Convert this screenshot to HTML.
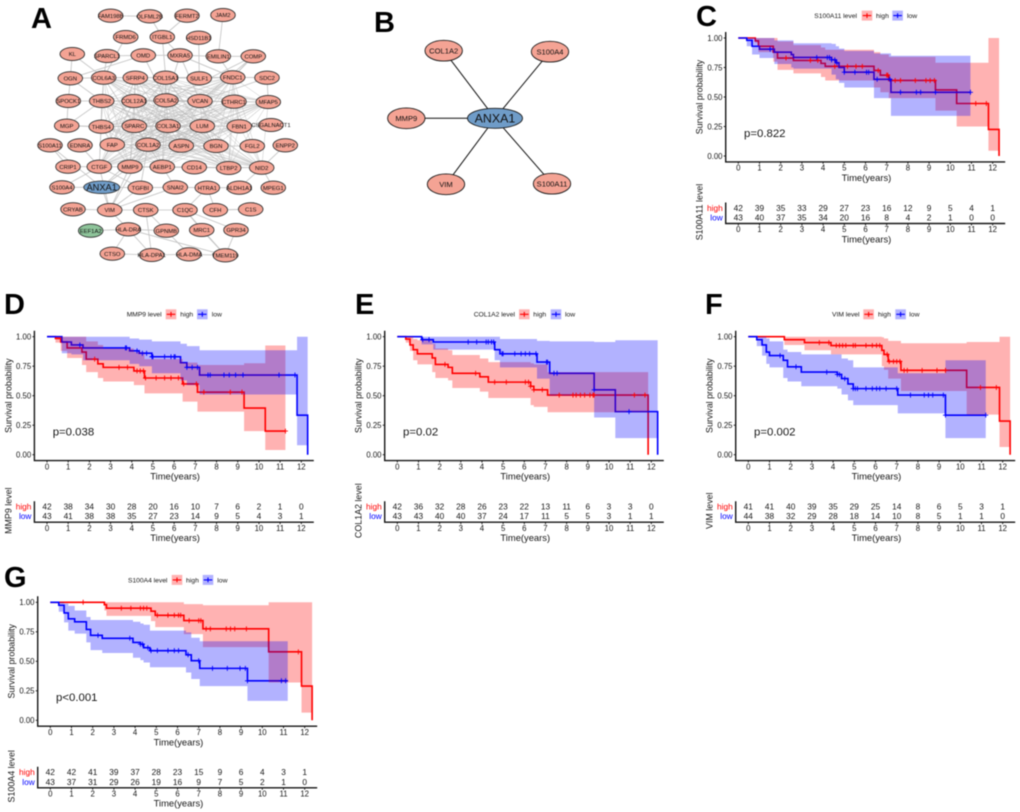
<!DOCTYPE html>
<html lang="en">
<head>
<meta charset="utf-8">
<title>ANXA1 network and survival curves</title>
<style>
html,body{margin:0;padding:0;background:#fff;}
svg{display:block;font-family:"Liberation Sans",Arial,sans-serif;filter:blur(0.45px);}
.letter{font-size:29px;font-weight:bold;fill:#000;}
</style>
</head>
<body>
<svg id="figure" width="1020" height="812" viewBox="0 0 1020 812" xmlns="http://www.w3.org/2000/svg">
<rect x="0" y="0" width="1020" height="812" fill="#fff"/>
<text class="letter" x="31" y="28">A</text>
<text class="letter" x="374" y="32">B</text>
<text class="letter" x="696" y="26">C</text>
<text class="letter" x="4" y="314">D</text>
<text class="letter" x="355" y="314">E</text>
<text class="letter" x="705" y="314">F</text>
<text class="letter" x="4" y="587">G</text>
</svg>
<script>
// ---------- shared tick labels ----------
const yearTicks = [0,1,2,3,4,5,6,7,8,9,10,11,12];
const survTicks = [0,0.25,0.5,0.75,1];
const survTickLabels = ["0.00","0.25","0.50","0.75","1.00"];

// ---------- panel C: S100A11 ----------
const cHighTimes = [0,.8,.95,1.65,1.85,2.6,3.9,4.1,6.4,6.7,7.1,9.3,10.3,11.8,12.3];
const cHighSurv = [1,.976,.93,.88,.83,.81,.785,.76,.725,.685,.64,.56,.445,.225,0];
const cHighUpper = [1,1,1,1,.97,.94,.92,.90,.88,.86,.84,.79,.79,1,1];
const cHighLower = [1,.96,.88,.80,.73,.70,.67,.64,.58,.54,.49,.385,.25,.045,.045];
const cHighCensor = [2.25,3.4,3.75,4.55,5.15,5.55,5.85,6.6,7,7.05,7.4,7.65,8.35,8.85,9.05,9.25,11.2,11.7];
const cLowTimes = [0,.4,.65,1.0,1.7,2.5,2.6,4.4,4.6,4.75,5,6.4,7.2,10.95];
const cLowSurv = [1,.98,.93,.905,.88,.86,.835,.815,.79,.75,.71,.65,.54,.54];
const cLowUpper = [1,1,1,1,.98,.98,.955,.95,.93,.91,.89,.87,.85,.85];
const cLowLower = [1,.93,.86,.83,.78,.75,.74,.69,.65,.62,.58,.49,.34,.34];
const cLowCensor = [1.5,3.7,4.2,4.3,4.4,4.55,4.65,5,5.5,6.05,6.15,6.55,7.15,7.65,8.4,8.6,9.3,10.95];
const cRiskHigh = [42,39,35,33,29,27,23,16,12,9,5,4,1];
const cRiskLow = [43,40,37,35,34,20,16,8,4,2,1,0,0];

// ---------- panel D: MMP9 ----------
const dHighTimes = [0,.4,.65,.95,1.65,1.85,2.4,2.65,4.1,4.6,6.4,7.1,9.3,10.3,11.25];
const dHighSurv = [1,.985,.955,.905,.87,.81,.77,.74,.71,.65,.60,.53,.395,.20,.20];
const dHighUpper = [1,1,1,1,1,.96,.93,.90,.87,.81,.78,.76,.775,.925,.925];
const dHighLower = [1,.95,.88,.82,.76,.70,.65,.62,.59,.52,.45,.365,.20,.04,.04];
const dHighCensor = [2.25,3.4,3.8,4.25,4.4,4.55,4.65,5.15,5.55,5.85,6.2,6.45,7.05,7.4,8.65,9.2,11.25];
const dLowTimes = [0,.7,1.15,1.7,3.9,4.35,4.95,6.3,6.6,7.2,11.8,12.3];
const dLowSurv = [1,.955,.93,.905,.88,.86,.83,.78,.74,.675,.335,0];
const dLowUpper = [1,1,1,1,.985,.975,.96,.94,.92,.885,1,1];
const dLowLower = [1,.86,.85,.80,.77,.75,.69,.63,.59,.51,.08,.08];
const dLowCensor = [1.55,3.7,3.75,4.25,4.5,4.7,4.95,5,5.55,5.85,6,6.05,6.6,6.85,7.1,7.6,7.7,8.35,8.6,8.9,9.25,10.95,11.7];
const dRiskHigh = [42,38,34,30,28,20,16,10,7,6,2,1,0];
const dRiskLow = [43,41,38,38,35,27,23,14,9,5,4,3,1];

// ---------- panel E: COL1A2 ----------
const eHighTimes = [0,.4,.6,.75,.95,1.65,1.8,2.4,2.6,3.9,4.3,6.3,6.45,7.1,11.85];
const eHighSurv = [1,.98,.93,.89,.855,.82,.765,.74,.69,.66,.615,.58,.55,.505,0];
const eHighUpper = [1,1,1,.98,.97,.94,.90,.885,.845,.815,.785,.775,.765,.70,.70];
const eHighLower = [1,.95,.88,.80,.765,.70,.65,.63,.565,.535,.48,.42,.405,.36,.36];
const eHighCensor = [2.25,3.7,4.6,5.15,6.05,6.2,6.3,6.45,6.85,7.65,8.3,8.45,8.65,8.85,9.1,9.25,9.3,11.2,11.7];
const eLowTimes = [0,1.15,1.7,4.6,4.85,6.6,7.2,9.3,10.3,12.3];
const eLowSurv = [1,.975,.955,.89,.855,.785,.69,.55,.365,0];
const eLowUpper = [1,1,1,1,.98,.965,.96,.955,.97,.97];
const eLowLower = [1,.935,.89,.80,.74,.645,.50,.315,.14,.14];
const eLowCensor = [1.2,1.5,3.35,3.75,4.2,4.3,4.45,4.55,4.95,5,5.55,5.85,6.05,6.25,6.55,7.05,7.1,7.4,7.55,9.3,10.95];
const eRiskHigh = [42,36,32,28,26,23,22,13,11,6,3,3,0];
const eRiskLow = [43,43,40,40,37,24,17,11,5,5,3,1,1];

// ---------- panel F: VIM ----------
const fHighTimes = [0,1.7,2.65,3.9,6.3,6.4,6.6,7.2,10.3,11.85,12.35];
const fHighSurv = [1,.975,.95,.925,.885,.85,.79,.715,.57,.285,0];
const fHighUpper = [1,1,1,1,.995,.985,.965,.945,.955,1,1];
const fHighLower = [1,.93,.885,.85,.75,.72,.645,.54,.34,.065,.065];
const fHighCensor = [3.35,3.8,4.15,4.3,4.45,4.6,4.95,5.05,5.55,5.85,6.05,6.2,6.55,6.65,6.85,7,7.15,7.35,7.5,8.2,8.9,9.3,10.95,11.7];
const fLowTimes = [0,.4,.65,.85,1.0,1.65,1.85,2.5,4.2,4.4,4.7,4.95,7.05,9.3,11.2];
const fLowSurv = [1,.975,.93,.87,.84,.80,.745,.70,.68,.645,.60,.56,.505,.335,.335];
const fLowUpper = [1,1,1,.985,.96,.89,.87,.85,.85,.815,.80,.74,.69,.80,.80];
const fLowLower = [1,.92,.84,.77,.74,.65,.62,.58,.56,.51,.46,.42,.35,.14,.14];
const fLowCensor = [1.5,2.25,3.7,4.2,4.3,4.55,4.95,5.05,5.15,5.55,5.85,6.05,6.2,6.5,7,7.65,8.3,8.5,8.7,9.2,9.3,11.2];
const fRiskHigh = [41,41,40,39,35,29,25,14,8,6,5,3,1];
const fRiskLow = [44,38,32,29,28,18,14,10,8,5,1,1,0];

// ---------- panel G: S100A4 ----------
const gHighTimes = [0,2.55,2.65,4.75,4.95,6.3,7.2,10.3,11.85,12.35];
const gHighSurv = [1,.98,.95,.925,.89,.845,.775,.58,.29,0];
const gHighUpper = [1,1,1,1,1,.985,.975,1,1,1];
const gHighLower = [1,.93,.885,.84,.79,.73,.62,.32,.065,.065];
const gHighCensor = [1.55,3.35,3.8,4.25,4.4,4.55,5.05,5.55,5.85,6.05,6.15,6.55,7,7.1,7.35,7.55,8.3,8.5,8.7,9.25,11.7];
const gLowTimes = [0,.4,.65,.85,1.15,1.7,1.9,2.45,3.9,4.25,4.4,4.7,6.4,6.65,7.05,9.3,11.2];
const gLowSurv = [1,.975,.91,.86,.835,.77,.72,.695,.66,.645,.615,.59,.555,.505,.44,.335,.335];
const gLowUpper = [1,1,.99,.97,.93,.875,.85,.85,.835,.82,.81,.76,.745,.70,.67,.67,.67];
const gLowLower = [1,.92,.83,.76,.735,.66,.595,.57,.53,.51,.49,.45,.405,.35,.29,.165,.165];
const gLowCensor = [2.25,3.75,4.25,4.35,4.6,4.75,5.05,5.55,5.85,6.05,6.5,7,7.65,8.35,8.95,9.2,9.3,10.9,11.1];
const gRiskHigh = [42,42,41,39,37,28,23,15,9,6,4,3,1];
const gRiskLow = [43,37,31,29,26,19,16,9,7,5,2,1,0];

// ---------- panel layouts (pixel frames live here, not in the data) ----------
const survivalPanels = [
  {id:"c",gene:"S100A11",p:"p=0.822",x0:738.3,x12:992.7,top:38,legend:[814.3,861.7,876,892.3,907],
   high:[cHighTimes,cHighSurv,cHighUpper,cHighLower,cHighCensor],low:[cLowTimes,cLowSurv,cLowUpper,cLowLower,cLowCensor],riskHigh:cRiskHigh,riskLow:cRiskLow},
  {id:"d",gene:"MMP9",p:"p=0.038",x0:47,x12:301.3,top:336.7,legend:[126.7,165.7,180.3,197,211.7],
   high:[dHighTimes,dHighSurv,dHighUpper,dHighLower,dHighCensor],low:[dLowTimes,dLowSurv,dLowUpper,dLowLower,dLowCensor],riskHigh:dRiskHigh,riskLow:dRiskLow},
  {id:"e",gene:"COL1A2",p:"p=0.02",x0:397.3,x12:651.3,top:336.7,legend:[473.7,519,533.3,550.7,565],
   high:[eHighTimes,eHighSurv,eHighUpper,eHighLower,eHighCensor],low:[eLowTimes,eLowSurv,eLowUpper,eLowLower,eLowCensor],riskHigh:eRiskHigh,riskLow:eRiskLow},
  {id:"f",gene:"VIM",p:"p=0.002",x0:748.3,x12:1002.7,top:336.7,legend:[832,863.3,878,895.3,909.3],
   high:[fHighTimes,fHighSurv,fHighUpper,fHighLower,fHighCensor],low:[fLowTimes,fLowSurv,fLowUpper,fLowLower,fLowCensor],riskHigh:fRiskHigh,riskLow:fRiskLow},
  {id:"g",gene:"S100A4",p:"p<0.001",x0:50.3,x12:304.7,top:602.3,legend:[128,171.7,186,202.7,217.3],
   high:[gHighTimes,gHighSurv,gHighUpper,gHighLower,gHighCensor],low:[gLowTimes,gLowSurv,gLowUpper,gLowLower,gLowCensor],riskHigh:gRiskHigh,riskLow:gRiskLow}
];

// ---------- network A ----------
const networkNodes = [
["FAM198B",110.7,15.7],["OLFML2B",149.7,16.3],["FERMT2",187,15.7],["JAM2",223,15],
["FRMD6",125.7,37],["ITGBL1",162.3,37],["HSD11B1",198.7,37.7],
["KL",72.3,54],["SPARCL1",107,56],["OMD",143.3,55.3],["MXRA5",180,55.3],["EMILIN1",218.3,56.3],["COMP",253.3,56.3],
["OGN",70.3,78.3],["COL6A3",103.7,77.7],["SFRP4",135.3,77.7],["COL15A1",165.7,77.7],["SULF1",199.3,78.3],["FNDC1",232.7,77.3],["SDC2",267,77.7],
["SPOCK1",68.3,101],["THBS2",101.7,101],["COL12A1",134,101],["COL5A2",166,100.3],["VCAN",200,101],["CTHRC1",234,101.7],["MFAP5",268.3,102],
["MGP",66.7,125.7],["THBS4",101.3,126.7],["SPARC",134.3,126],["COL3A1",168,126],["LUM",202.3,126],["FBN1",239.3,126.3],["CSGALNACT1",271,125],
["S100A11",50,145.3],["EDNRA",80,145.3],["FAP",112.3,144.7],["COL1A2",148,144.7],["ASPN",181.3,145.7],["BGN",216,146],["FGL2",252.3,146],["ENPP2",285.3,145.3],
["CRIP1",68,166.7],["CTGF",99.3,166.7],["MMP9",130,166.7],["AEBP1",162.3,166.7],["CD14",194.3,167.3],["LTBP2",228.7,168],["NID2",261.7,167.7],
["S100A4",62,187.3],["ANXA1",101.7,187.3],["TGFBI",140.3,187.7],["SNAI2",175.3,187.3],["HTRA1",207.3,187.7],["ALDH1A1",239.3,187.7],["MPEG1",273.3,187.7],
["CRYAB",73,209.3],["VIM",109.7,210],["CTSK",145.7,210],["C1QC",185,210],["CFH",215.3,210],["C1S",250.7,209.3],
["EEF1A2",90.7,230.7],["HLA-DRA",128.3,229.3],["GPNMB",166.3,230.7],["MRC1",201.7,230],["GPR34",236,230],
["CTSO",112.3,253.7],["HLA-DPA1",151.7,255],["HLA-DMA",189,254.3],["TMEM119",225.3,255.3]
];
const networkHubs = ["COL6A3","COL15A1","THBS2","COL12A1","COL5A2","VCAN","SPARC","COL3A1","LUM","FBN1","COL1A2","ASPN","BGN","FAP","MMP9","AEBP1","CTGF","NID2","FNDC1","CTHRC1","MFAP5","SFRP4","LTBP2","THBS4"];
const networkEdges = [
["FAM198B","OLFML2B"],["OLFML2B","ITGBL1"],["FERMT2","ITGBL1"],["JAM2","EMILIN1"],["FRMD6","COL6A3"],["ITGBL1","MXRA5"],["ITGBL1","COL15A1"],["HSD11B1","SULF1"],
["KL","OGN"],["KL","COL6A3"],["SPARCL1","COL6A3"],["SPARCL1","OMD"],["OMD","MXRA5"],["OMD","OGN"],["OMD","COL5A2"],["MXRA5","EMILIN1"],["MXRA5","FNDC1"],["MXRA5","COL5A2"],["MXRA5","VCAN"],
["EMILIN1","COMP"],["EMILIN1","FNDC1"],["COMP","FNDC1"],["COMP","FNDC1"],["COMP","VCAN"],["COMP","COL5A2"],["FNDC1","SDC2"],["SDC2","MFAP5"],["SDC2","VCAN"],
["OGN","COL6A3"],["OGN","SPOCK1"],["OGN","THBS2"],["SPOCK1","MGP"],["SPOCK1","THBS2"],["MGP","THBS4"],["MGP","THBS4"],["MGP","THBS2"],["THBS4","SPARC"],["THBS4","SPARC"],
["FBN1","CSGALNACT1"],["S100A11","CRIP1"],["S100A11","ANXA1"],["EDNRA","CTGF"],["FAP","CTGF"],["CRIP1","CTGF"],["CTGF","S100A4"],["S100A4","ANXA1"],["ANXA1","VIM"],["ANXA1","TGFBI"],["ANXA1","MMP9"],["ANXA1","COL1A2"],
["CRYAB","VIM"],["VIM","TGFBI"],["VIM","CTSK"],["VIM","HLA-DRA"],["VIM","MMP9"],["VIM","COL1A2"],["VIM","CTGF"],["VIM","SNAI2"],["TGFBI","SNAI2"],["TGFBI","CTGF"],["TGFBI","COL1A2"],["SNAI2","HTRA1"],["SNAI2","AEBP1"],
["HTRA1","ALDH1A1"],["ALDH1A1","NID2"],["NID2","MPEG1"],["NID2","ENPP2"],["HTRA1","CFH"],["CFH","C1S"],["CFH","C1S"],["C1QC","GPR34"],["C1QC","MRC1"],["C1QC","TMEM119"],["C1QC","HTRA1"],
["CTSK","GPNMB"],["CTSK","C1QC"],["GPNMB","HLA-DRA"],["EEF1A2","HLA-DRA"],["HLA-DRA","HLA-DPA1"],["HLA-DRA","CTSO"],["HLA-DRA","TMEM119"],["CTSO","HLA-DPA1"],["HLA-DPA1","HLA-DMA"],["HLA-DMA","TMEM119"],["MRC1","TMEM119"],["GPR34","TMEM119"],["CTSK","HLA-DPA1"],["GPNMB","HLA-DMA"],
["COL5A2","VCAN"],["COL5A2","COL12A1"],["COL12A1","THBS2"],["COL3A1","SPARC"],["COL3A1","LUM"],["LUM","FBN1"],["VCAN","CTHRC1"],["COL6A3","SFRP4"],["SFRP4","COL15A1"],["COL15A1","SULF1"],["SULF1","FNDC1"],["FGL2","BGN"],["BGN","ASPN"],["COL1A2","ASPN"]
];

// ---------- network B ----------
const starNodes = [["COL1A2",443.7,50.7],["S100A4",550,51.7],["MMP9",406.3,118.3],["VIM",446,184.3],["S100A11",552,183.7]];

// ---------- drawing ----------
const NS = "http://www.w3.org/2000/svg";
const figure = document.getElementById("figure");
function make(parent, tag, attrs, content){
  const node = document.createElementNS(NS, tag);
  for (const k in attrs) node.setAttribute(k, attrs[k]);
  if (content !== undefined) node.textContent = content;
  parent.appendChild(node);
  return node;
}

function drawNetworkA(){
  const g = make(figure, "g", {});
  
  
  const pos = {};
  networkNodes.forEach(n => { pos[n[0]] = n; });
  function edge(a, b, color, w){
    const ln = make(g, "line", {x1:pos[a][1],y1:pos[a][2],x2:pos[b][1],y2:pos[b][2],stroke:color,"stroke-width":w});
    
    
  }
  for (let i = 0; i < networkHubs.length; i++) {
    for (let j = i + 1; j < networkHubs.length; j++) {
      edge(networkHubs[i], networkHubs[j], "#bcbcbc", 0.42);
    }
  }
  networkEdges.forEach(e => edge(e[0], e[1], "#c4c4c4", 0.85));
  networkNodes.forEach(n => {
    const isHub = n[0] === "ANXA1";
    const isGreen = n[0] === "EEF1A2";
    const el = make(g, "ellipse", {cx:n[1],cy:n[2],rx:isHub?18:12.3,ry:isHub?6.3:6.6,fill:isHub?"#6f9cc8":isGreen?"#8ec49a":"#f4a394",stroke:"#2c2c2c","stroke-width":0.85});
    
    
    const t = make(g, "text", {x:n[1],y:n[2]+(isHub?3.3:2.1),"text-anchor":"middle","font-size":isHub?9.3:5.9,fill:"#111"}, n[0]);
    
    
  });
}

function drawNetworkB(){
  const g = make(figure, "g", {});
  
  
  const cx = 495, cy = 118.3;
  starNodes.forEach(n => {
    const ln = make(g, "line", {x1:cx,y1:cy,x2:n[1],y2:n[2],stroke:"#111","stroke-width":1});
    
    
  });
  starNodes.forEach(n => {
    const el = make(g, "ellipse", {cx:n[1],cy:n[2],rx:18.7,ry:10.4,fill:"#f4a394",stroke:"#1c1c1c","stroke-width":0.9});
    
    
    const t = make(g, "text", {x:n[1],y:n[2]+2.7,"text-anchor":"middle","font-size":7.6,fill:"#111"}, n[0]);
    
    
  });
  const hub = make(g, "ellipse", {cx:cx,cy:cy,rx:27.5,ry:10,fill:"#6f9cc8",stroke:"#1c1c1c","stroke-width":0.9});
  
  
  const hubLabel = make(g, "text", {x:cx,y:cy+4.4,"text-anchor":"middle","font-size":12.4,fill:"#111"}, "ANXA1");
  
  
}

function stepPath(times, values, xs, ys){
  let d = "M" + xs(times[0]) + " " + ys(values[0]);
  for (let i = 1; i < times.length; i++) {
    d += "H" + xs(times[i]) + "V" + ys(values[i]);
  }
  return d;
}
function bandPath(times, upper, lower, xs, ys){
  let d = "M" + xs(times[0]) + " " + ys(upper[0]);
  for (let i = 1; i < times.length; i++) {
    d += "H" + xs(times[i]);
    if (i < times.length - 1) d += "V" + ys(upper[i]);
  }
  d += "V" + ys(lower[lower.length - 1]);
  for (let i = times.length - 2; i >= 0; i--) {
    d += "H" + xs(times[i]);
    if (i > 0) d += "V" + ys(lower[i - 1]);
  }
  return d + "Z";
}
function survivalAt(t, times, values){
  let v = values[0];
  for (let i = 0; i < times.length; i++) { if (times[i] <= t) v = values[i]; }
  return v;
}

function drawSurvivalPanel(cfg){
  const g = make(figure, "g", {});
  
  
  const xs = t => +(cfg.x0 + t * (cfg.x12 - cfg.x0) / 12).toFixed(2);
  const y0 = cfg.top + 118;
  const ys = s => +(y0 - s * 118).toFixed(2);
  const axisL = cfg.x0 - 12.6, axisR = cfg.x12 + 12.5, axisB = y0 + 5.9;
  const ink = "#161616";

  // lines sit below the translucent bands, as in the original plot
  const series = [["high", cfg.high, "#ff0000"], ["low", cfg.low, "#0000ff"]];
  series.forEach(s => {
    const line = make(g, "path", {d:stepPath(s[1][0], s[1][1], xs, ys),fill:"none",stroke:s[2],"stroke-width":1.6});
    
    
  });
  series.forEach(s => {
    const band = make(g, "path", {d:bandPath(s[1][0], s[1][2], s[1][3], xs, ys),fill:s[2],"fill-opacity":0.3,stroke:"none"});
    
    
  });
  series.forEach(s => {
    s[1][4].forEach(t => {
      const px = xs(t), py = ys(survivalAt(t, s[1][0], s[1][1]));
      const mark = make(g, "path", {d:"M"+(px-2.5)+" "+py+"H"+(px+2.5)+"M"+px+" "+(py-2.5)+"V"+(py+2.5),stroke:s[2],"stroke-width":0.9,fill:"none"});
      
      
    });
  });

  // main axes
  const axes = make(g, "path", {d:"M"+axisL+" "+(cfg.top-6)+"V"+axisB+"H"+axisR,fill:"none",stroke:ink,"stroke-width":1.4});
  
  
  survTicks.forEach((v, i) => {
    const tick = make(g, "line", {x1:axisL-2,x2:axisL,y1:ys(v),y2:ys(v),stroke:ink,"stroke-width":0.9});
    
    
    const lab = make(g, "text", {x:axisL-3.2,y:ys(v)+2.8,"text-anchor":"end","font-size":7.8,fill:ink}, survTickLabels[i]);
    
    
  });
  yearTicks.forEach(t => {
    const tick = make(g, "line", {x1:xs(t),x2:xs(t),y1:axisB,y2:axisB+2,stroke:ink,"stroke-width":0.9});
    
    
    const lab = make(g, "text", {x:xs(t),y:y0+14.6,"text-anchor":"middle","font-size":7.8,fill:ink}, String(t));
    
    
    const rtick = make(g, "line", {x1:xs(t),x2:xs(t),y1:y0+67.5,y2:y0+69.5,stroke:ink,"stroke-width":0.9});
    
    
    const rlab = make(g, "text", {x:xs(t),y:y0+76.2,"text-anchor":"middle","font-size":7.8,fill:ink}, String(t));
    
    
    const hi = make(g, "text", {x:xs(t),y:y0+54.9,"text-anchor":"middle","font-size":8.3,fill:ink}, String(cfg.riskHigh[t]));
    
    
    const lo = make(g, "text", {x:xs(t),y:y0+64.5,"text-anchor":"middle","font-size":8.3,fill:ink}, String(cfg.riskLow[t]));
    
    
  });

  // axis titles
  const xTitle = make(g, "text", {x:(axisL+axisR)/2+1,y:y0+25,"text-anchor":"middle","font-size":9.4,fill:ink}, "Time(years)");
  
  
  const yTx = axisL - 23, yTy = cfg.top + 59;
  const yTitle = make(g, "text", {x:yTx,y:yTy,"text-anchor":"middle","font-size":8.9,fill:ink,transform:"rotate(-90 "+yTx+" "+yTy+")"}, "Survival probability");
  
  
  const pText = make(g, "text", {x:cfg.x0+5.7,y:y0-19.2,"font-size":11.4,fill:ink}, cfg.p);
  
  

  // risk table
  const riskAxes = make(g, "path", {d:"M"+axisL+" "+(y0+46.5)+"V"+(y0+67.5)+"H"+axisR,fill:"none",stroke:ink,"stroke-width":1.4});
  
  
  const hiLab = make(g, "text", {x:axisL-3,y:y0+54.9,"text-anchor":"end","font-size":8.3,fill:"#ff0000"}, "high");
  
  
  const loLab = make(g, "text", {x:axisL-3,y:y0+64.5,"text-anchor":"end","font-size":8.3,fill:"#0000ff"}, "low");
  
  
  const rTy = y0 + 56;
  const rTitle = make(g, "text", {x:yTx,y:rTy,"text-anchor":"middle","font-size":8.9,fill:ink,transform:"rotate(-90 "+yTx+" "+rTy+")"}, cfg.gene + " level");
  
  
  const rX = make(g, "text", {x:(axisL+axisR)/2+1,y:y0+86.3,"text-anchor":"middle","font-size":9.4,fill:ink}, "Time(years)");
  
  

  // legend
  const ly = cfg.top - 22.4, L = cfg.legend;
  const lt = make(g, "text", {x:L[0],y:ly+2.4,"font-size":6.7,fill:ink}, cfg.gene + " level");
  
  
  [[L[1],L[2],"#ff0000","high"],[L[3],L[4],"#0000ff","low"]].forEach(k => {
    const sw = make(g, "rect", {x:k[0],y:ly-5,width:10.6,height:10,fill:k[2],"fill-opacity":0.3});
    
    
    const mk = make(g, "path", {d:"M"+(k[0]+1)+" "+ly+"H"+(k[0]+9.6)+"M"+(k[0]+5.3)+" "+(ly-2.4)+"V"+(ly+2.4),stroke:k[2],"stroke-width":1.1,fill:"none"});
    
    
    const tx = make(g, "text", {x:k[1],y:ly+2.4,"font-size":6.8,fill:ink}, k[3]);
    
    
  });
}

drawNetworkA();
drawNetworkB();
survivalPanels.forEach(drawSurvivalPanel);
</script>
</body>
</html>
